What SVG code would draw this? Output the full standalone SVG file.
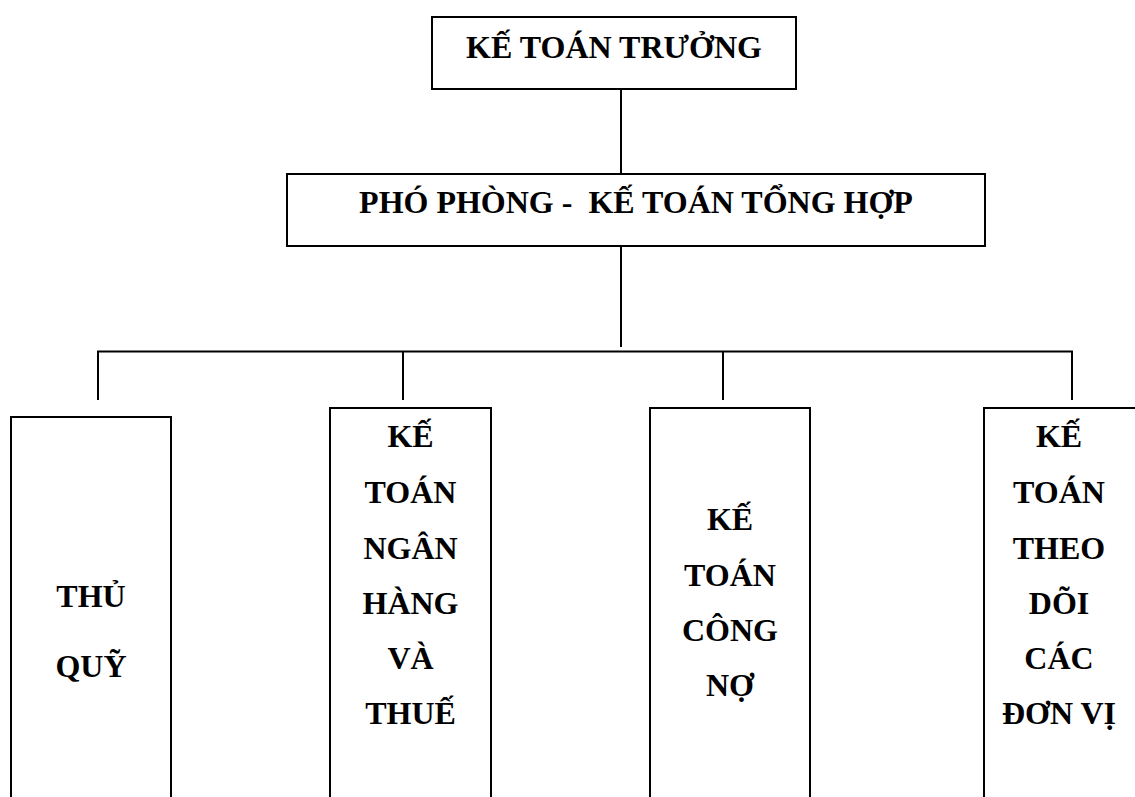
<svg xmlns="http://www.w3.org/2000/svg" width="1135" height="797" viewBox="0 0 1135 797">
  <style>
    .box { fill: #ffffff; stroke: #000000; stroke-width: 2; }
    .wire { fill: none; stroke: #000000; stroke-width: 2; }
  </style>
  <rect width="1135" height="797" fill="#ffffff"/>

  <!-- connectors -->
  <g id="connectors" class="wire">
    <line x1="621" y1="89" x2="621" y2="174"/>
    <line x1="621" y1="246" x2="621" y2="347"/>
    <polyline points="98,400 98,351.5 1072,351.5 1072,400"/>
    <line x1="403" y1="351.5" x2="403" y2="400"/>
    <line x1="723" y1="351.5" x2="723" y2="400"/>
  </g>

  <!-- all labels: bold serif, centred -->
  <g font-family="Liberation Serif" font-weight="bold" font-size="32" fill="#000000" text-anchor="middle">

    <!-- chief accountant -->
    <g id="ke-toan-truong">
      <rect class="box" x="432" y="17" width="364" height="72"/>
      <text x="614" y="58">KẾ TOÁN TRƯỞNG</text>
    </g>

    <!-- deputy / general accountant -->
    <g id="pho-phong">
      <rect class="box" x="287" y="174" width="698" height="72"/>
      <text x="636" y="213" xml:space="preserve">PHÓ PHÒNG -  KẾ TOÁN TỔNG HỢP</text>
    </g>

    <!-- cashier -->
    <g id="thu-quy">
      <rect class="box" x="11" y="417" width="160" height="400"/>
      <text x="91" y="607">THỦ</text>
      <text x="91" y="677">QUỸ</text>
    </g>

    <!-- bank and tax accountant -->
    <g id="ke-toan-ngan-hang">
      <rect class="box" x="330" y="408" width="161" height="409"/>
      <text x="410.5" y="447">KẾ</text>
      <text x="410.5" y="503">TOÁN</text>
      <text x="410.5" y="559">NGÂN</text>
      <text x="410.5" y="614">HÀNG</text>
      <text x="410.5" y="669">VÀ</text>
      <text x="410.5" y="724">THUẾ</text>
    </g>

    <!-- receivables / payables accountant -->
    <g id="ke-toan-cong-no">
      <rect class="box" x="650" y="408" width="160" height="409"/>
      <text x="730" y="530">KẾ</text>
      <text x="730" y="586">TOÁN</text>
      <text x="730" y="641">CÔNG</text>
      <text x="730" y="696">NỢ</text>
    </g>

    <!-- unit-tracking accountant -->
    <g id="ke-toan-don-vi">
      <rect class="box" x="984" y="408" width="160" height="409"/>
      <text x="1059" y="447">KẾ</text>
      <text x="1059" y="503">TOÁN</text>
      <text x="1059" y="559">THEO</text>
      <text x="1059" y="614">DÕI</text>
      <text x="1059" y="669">CÁC</text>
      <text x="1059" y="724">ĐƠN VỊ</text>
    </g>
  </g>
</svg>
